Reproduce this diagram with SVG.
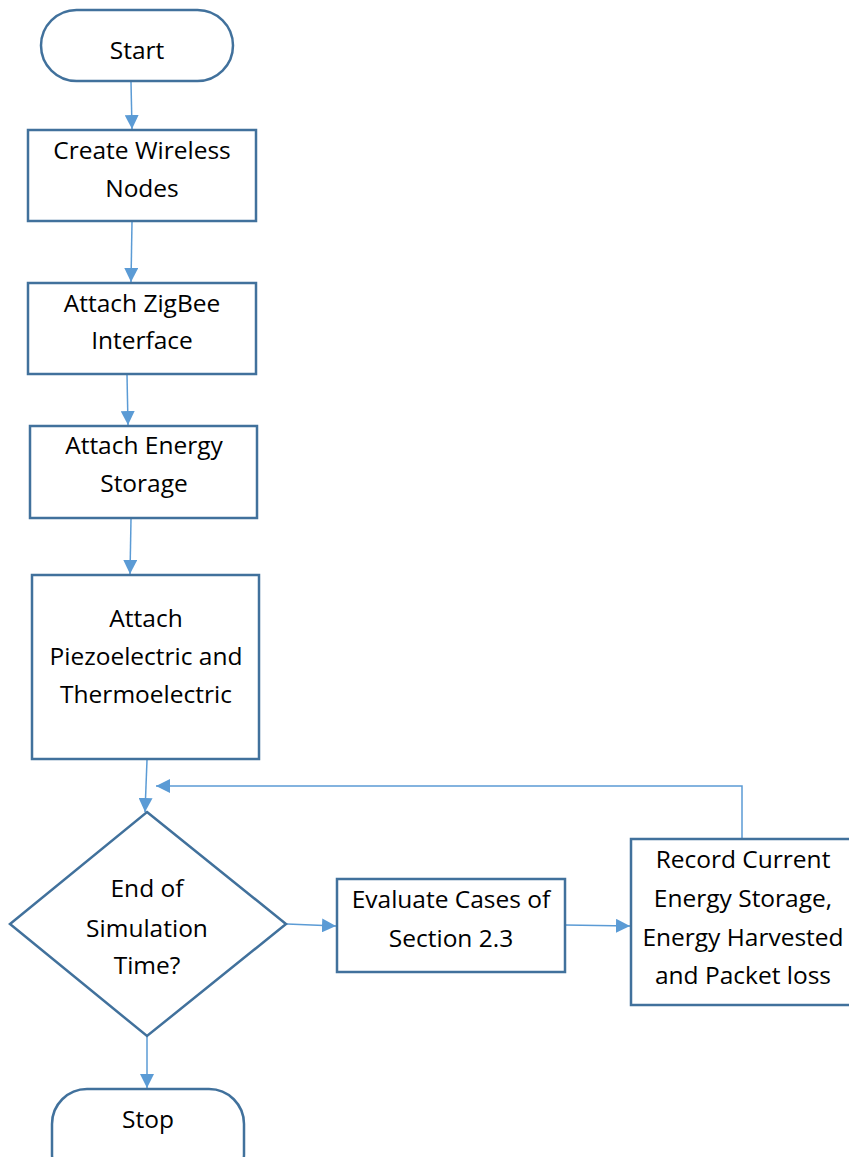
<svg xmlns="http://www.w3.org/2000/svg" width="849" height="1157" viewBox="0 0 849 1157">
<style>
.n{fill:#fff;stroke:#41719C;stroke-width:2.5}
.c{fill:none;stroke:#5B9BD5;stroke-width:1.5}
text{font-family:"Open Sans","Liberation Sans",Arial,sans-serif;font-size:24.5px;fill:#000;text-anchor:middle}
</style>
<defs>
<marker id="ah" viewBox="0 0 14 14" refX="14" refY="7" markerWidth="14" markerHeight="14" markerUnits="userSpaceOnUse" orient="auto">
<path d="M0,0 L14,7 L0,14 Z" fill="#5B9BD5"/>
</marker>
</defs>
<rect width="849" height="1157" fill="#fff"/>
<g id="connectors">
<path class="c" d="M131,82 L132,129" marker-end="url(#ah)"/>
<path class="c" d="M132,222 L131,282" marker-end="url(#ah)"/>
<path class="c" d="M127,375 L128,425" marker-end="url(#ah)"/>
<path class="c" d="M131,519 L130,574" marker-end="url(#ah)"/>
<path class="c" d="M147,760 L145,812" marker-end="url(#ah)"/>
<path class="c" d="M742,840 L742,786 L156,786" marker-end="url(#ah)"/>
<path class="c" d="M287,924 L336,926" marker-end="url(#ah)"/>
<path class="c" d="M565,925 L630,926" marker-end="url(#ah)"/>
<path class="c" d="M147,1036 L147,1088" marker-end="url(#ah)"/>
</g>
<g id="start">
<rect class="n" x="41" y="10" width="192" height="71" rx="35.5"/>
<text x="137" y="59">Start</text>
</g>
<g id="create">
<rect class="n" x="28" y="130" width="228" height="91"/>
<text x="142" y="159">Create Wireless</text>
<text x="142" y="197">Nodes</text>
</g>
<g id="zigbee">
<rect class="n" x="28" y="283" width="228" height="91"/>
<text x="142" y="312">Attach ZigBee</text>
<text x="142" y="349">Interface</text>
</g>
<g id="storage">
<rect class="n" x="30" y="426" width="227" height="92"/>
<text x="144" y="454">Attach Energy</text>
<text x="144" y="492">Storage</text>
</g>
<g id="piezo">
<rect class="n" x="32" y="575" width="227" height="184"/>
<text x="146" y="627">Attach</text>
<text x="146" y="665">Piezoelectric and</text>
<text x="146" y="703">Thermoelectric</text>
</g>
<g id="decision">
<polygon class="n" points="147,812 286,924 147,1036 10,924"/>
<text x="147" y="897">End of</text>
<text x="147" y="937">Simulation</text>
<text x="147" y="974">Time?</text>
</g>
<g id="evaluate">
<rect class="n" x="337" y="879" width="228" height="93"/>
<text x="451" y="908">Evaluate Cases of</text>
<text x="451" y="947">Section 2.3</text>
</g>
<g id="record">
<rect class="n" x="631" y="839" width="230" height="166"/>
<text x="743" y="868">Record Current</text>
<text x="743" y="907">Energy Storage,</text>
<text x="743" y="946">Energy Harvested</text>
<text x="743" y="984">and Packet loss</text>
</g>
<g id="stop">
<rect class="n" x="52" y="1089" width="192" height="100" rx="35"/>
<text x="148" y="1128">Stop</text>
</g>
</svg>
